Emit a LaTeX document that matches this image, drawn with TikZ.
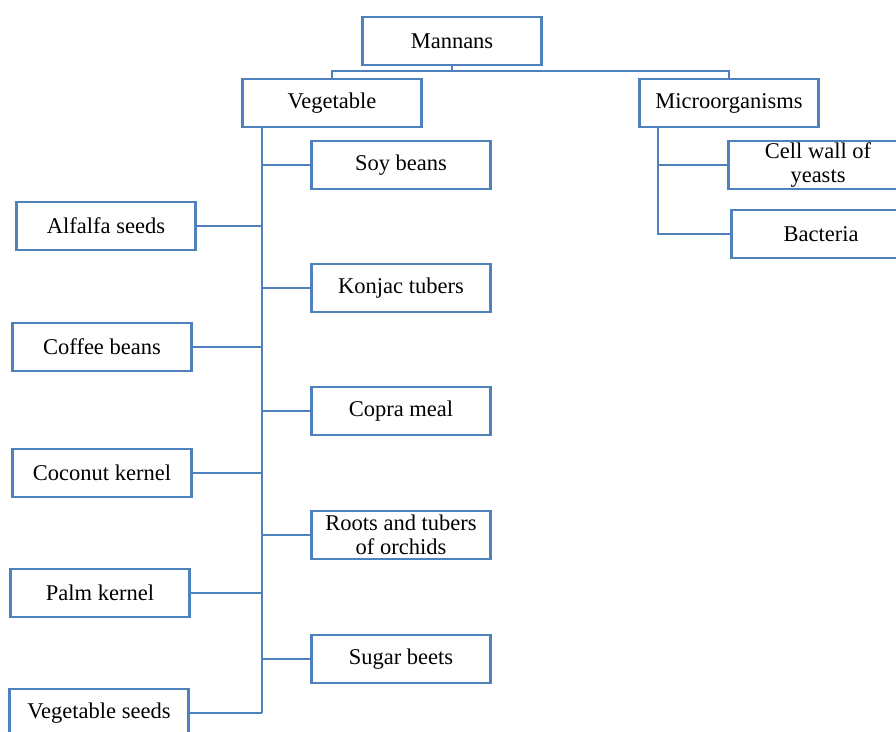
\documentclass[tikz,border=0pt]{standalone}
\usepackage{fontspec}
\setmainfont{Liberation Serif}
\usetikzlibrary{positioning}
\definecolor{mnblue}{RGB}{79,129,189}

\begin{document}
\begin{tikzpicture}[x=1pt, y=-1pt,
    mn block/.style={rectangle, draw=mnblue, line width=2.4pt, fill=white,
        minimum width=179pt, minimum height=48pt, inner sep=1pt,
        align=center, font=\fontsize{22.5}{24}\selectfont},
    mn line/.style={draw=mnblue, line width=1.5pt}]

    \clip (0,0) rectangle (896,731);

    \node [mn block] (mannans) at (452,41) {Mannans};
    \node [mn block] (veg) at (332,103) {Vegetable};
    \node [mn block] (micro) at (729,103) {Microorganisms};

    % vegetable sources, right of the trunk
    \node [mn block] (soy) at (401,165) {Soy beans};
    \node [mn block] (konjac) at (401,288) {Konjac tubers};
    \node [mn block] (copra) at (401,411) {Copra meal};
    \node [mn block] (orchid) at (401,535) {Roots and tubers\\of orchids};
    \node [mn block] (beet) at (401,659) {Sugar beets};

    % vegetable sources, left of the trunk
    \node [mn block] (alfalfa) at (106,226) {Alfalfa seeds};
    \node [mn block] (coffee) at (102,347) {Coffee beans};
    \node [mn block] (coconut) at (102,473) {Coconut kernel};
    \node [mn block] (palm) at (100,593) {Palm kernel};
    \node [mn block] (vseeds) at (99,713) {Vegetable seeds};

    % microorganisms
    \node [mn block] (yeast) at (818,165) {Cell wall of\\yeasts};
    \node [mn block] (bact) at (821,234) {Bacteria};

    \coordinate (split) at (452,71);
    \coordinate (vtrunk) at (262,127);
    \coordinate (mtrunk) at (658,127);

    \draw [mn line] (mannans) -- (split);
    \draw [mn line] (veg.north) |- (split) -| (micro.north);

    \draw [mn line] (vtrunk) -- (vtrunk |- vseeds.east);
    \foreach \n in {soy,konjac,copra,orchid,beet}
        \draw [mn line] (\n.west) -- (\n.west -| vtrunk);
    \foreach \n in {alfalfa,coffee,coconut,palm,vseeds}
        \draw [mn line] (\n.east) -- (\n.east -| vtrunk);

    \draw [mn line] (mtrunk) -- (mtrunk |- bact.west) -- (bact.west);
    \draw [mn line] (yeast.west) -- (yeast.west -| mtrunk);
\end{tikzpicture}
\end{document}
